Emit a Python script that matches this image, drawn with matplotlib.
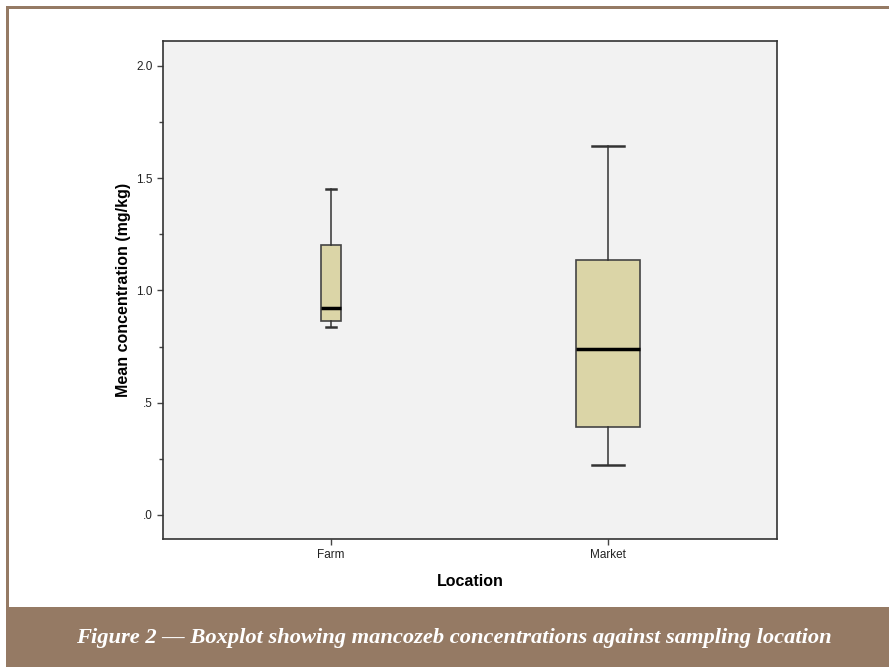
import matplotlib.pyplot as plt
from matplotlib.patches import Rectangle

# data
locations = ["Farm", "Market"]
whisker_low = [0.837, 0.223]
q1 = [0.864, 0.392]
median = [0.922, 0.739]
q3 = [1.203, 1.136]
whisker_high = [1.452, 1.644]
box_widths = [0.072, 0.231]

yticks = [0.0, 0.5, 1.0, 1.5, 2.0]
ytick_labels = [".0", ".5", "1.0", "1.5", "2.0"]
caption = "Figure 2 \u2014 Boxplot showing mancozeb concentrations against sampling location"

brown = "#957a64"

fig = plt.figure(figsize=(8.89, 6.67), dpi=100)
W, H = 889, 667

# frame and caption band
fig.add_artist(Rectangle((6 / W, 1 - 9 / H), 1 - 6 / W, 3 / H, transform=fig.transFigure,
                         color=brown, lw=0))
fig.add_artist(Rectangle((6 / W, 60 / H), 3 / W, 1 - 69 / H, transform=fig.transFigure,
                         color=brown, lw=0))
fig.add_artist(Rectangle((6 / W, 0), 1 - 6 / W, 60 / H, transform=fig.transFigure,
                         color=brown, lw=0))
fig.text(454 / W, 1 - 638 / H, caption, color="white", fontsize=16.2,
         family="Liberation Serif", style="italic", weight="bold",
         ha="center", va="center")

ax = fig.add_axes([163 / W, 1 - 539 / H, 614 / W, 498 / H])
ax.set_facecolor("#f2f2f2")

stats = []
for i in range(len(locations)):
    stats.append({"whislo": whisker_low[i], "q1": q1[i], "med": median[i],
                  "q3": q3[i], "whishi": whisker_high[i], "fliers": [],
                  "label": locations[i]})

ax.bxp(stats, positions=[1, 2], widths=box_widths, patch_artist=True,
       showfliers=False, capwidths=[w / 2 for w in box_widths],
       boxprops=dict(facecolor="#dbd5a7", edgecolor="#444444", linewidth=1.2),
       medianprops=dict(color="black", linewidth=2.5),
       whiskerprops=dict(color="#333333", linewidth=1.1),
       capprops=dict(color="#333333", linewidth=1.8))

ax.set_xlim(0.393, 2.61)
ax.set_ylim(-0.107, 2.111)
ax.set_yticks(yticks)
ax.set_yticklabels(ytick_labels)
ax.set_yticks([0.25, 0.75, 1.25, 1.75], minor=True)
ax.tick_params(axis="both", labelsize=8.5, length=4, width=1, color="#444444",
               labelcolor="#222222")
ax.tick_params(axis="y", which="minor", length=3, width=1, color="#444444")
for lab in ax.get_xticklabels() + ax.get_yticklabels():
    lab.set_family("Liberation Sans")
for s in ax.spines.values():
    s.set_color("#333333")
    s.set_linewidth(1.2)

ax.set_ylabel("Mean concentration (mg/kg)", fontsize=11.5, weight="bold",
              family="Liberation Sans", labelpad=4)
ax.set_xlabel("Location", fontsize=11.5, weight="bold",
              family="Liberation Sans", labelpad=9)

fig.savefig("out.png", dpi=100)
